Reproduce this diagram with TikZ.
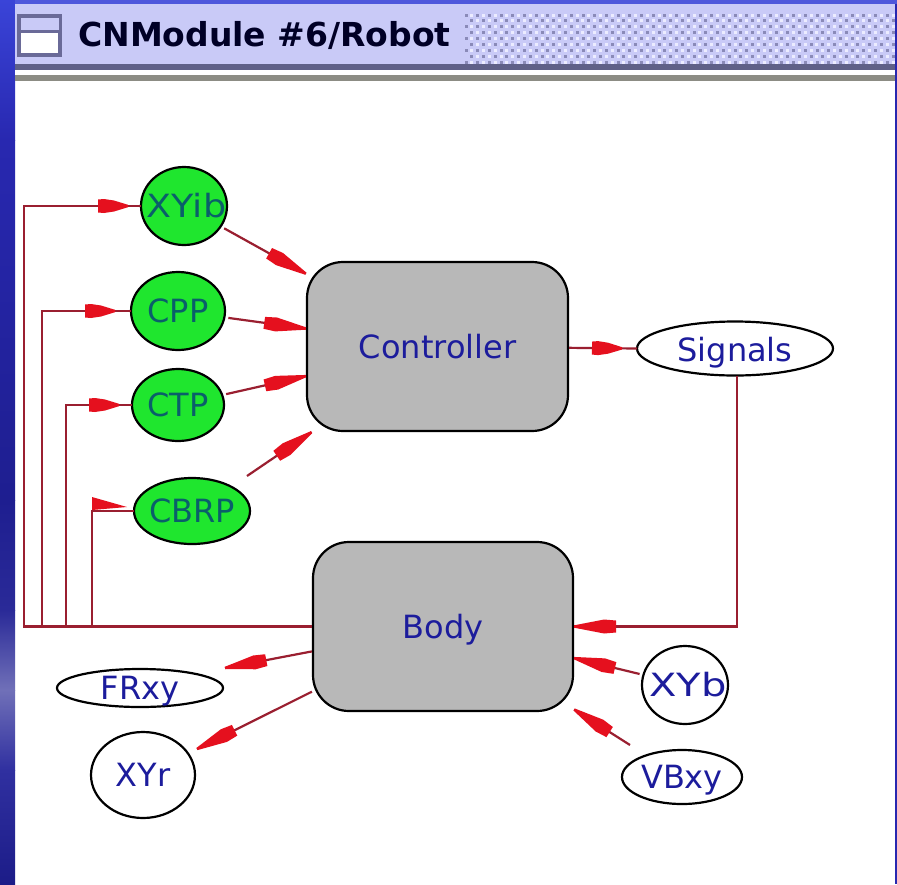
\documentclass[tikz,border=0pt]{standalone}
\usepackage{fontspec}
\setmainfont{DejaVu Sans}
\usetikzlibrary{shapes.geometric,decorations.markings}
\definecolor{barbg}{HTML}{C9CAF7}
\definecolor{linered}{HTML}{9A1F30}
\definecolor{headred}{HTML}{E5101E}
\definecolor{nodegreen}{HTML}{1FE62E}
\definecolor{boxgray}{HTML}{B8B8B8}
\definecolor{lbl}{HTML}{1C1C9C}
\definecolor{lblgreen}{HTML}{0A5F6A}
\definecolor{bgA}{HTML}{3A44D8}
\definecolor{bgB}{HTML}{2828B0}
\definecolor{bgC}{HTML}{1E1E90}
\definecolor{bgD}{HTML}{2A2A98}
\definecolor{bgE}{HTML}{7070B8}
\definecolor{bgF}{HTML}{3030A0}
\definecolor{bgG}{HTML}{1C1C88}
\definecolor{dotdark}{HTML}{8A8AB8}
\definecolor{dotlight}{HTML}{ECECFF}
\definecolor{iconline}{HTML}{6A6A98}
\definecolor{barline}{HTML}{5F6088}
\definecolor{rulegray}{HTML}{8C8C84}
\newcommand{\lab}[1]{\smash{\makebox[0pt]{\raisebox{-11.5pt}{\fontsize{32}{36}\selectfont #1}}}}
\newcommand{\labx}[4]{\smash{\makebox[0pt]{\hspace{#2}\raisebox{#3}{\scalebox{#1}[1]{\fontsize{32}{36}\selectfont #4}}}}}
\tikzset{
  x=1pt,y=-1pt,
  oval/.style={ellipse,draw=black,line width=2.2pt,inner sep=0pt,outer sep=4pt,text=lbl,fill=white},
  greenoval/.style={oval,fill=nodegreen,text=lblgreen},
  blockbox/.style={rectangle,rounded corners=36pt,draw=black,line width=2.2pt,fill=boxgray,text=lbl,inner sep=0pt},
  conn/.style={draw=linered,line width=2.2pt},
  hd/.style={postaction={decorate,decoration={markings,mark=at position #1 with {
    \fill[headred] (0,-1.2) -- (-30,-7) -- (-42,-6) -- (-42,6) -- (-30,7) -- (0,1.2) -- cycle;}}}},
  hds/.style={postaction={decorate,decoration={markings,mark=at position #1 with {
    \fill[headred] (0,-1.2) -- (-14,-5.5) -- (-24,-7) -- (-30,-6.5) -- (-30,6.5) -- (-24,7) -- (-14,5.5) -- (0,1.2) -- cycle;}}}},
}
\begin{document}
\begin{tikzpicture}
\useasboundingbox (0,0) rectangle (897,884);
% presentation background strips
\fill[white] (0,0) rectangle (897,884);
\shade[top color=bgA,bottom color=bgB] (0,0) rectangle (15,140);
\shade[top color=bgB,bottom color=bgC] (0,140) rectangle (15,500);
\shade[top color=bgC,bottom color=bgD] (0,500) rectangle (15,610);
\shade[top color=bgD,bottom color=bgE] (0,610) rectangle (15,690);
\shade[top color=bgE,bottom color=bgF] (0,690) rectangle (15,770);
\shade[top color=bgF,bottom color=bgG] (0,770) rectangle (15,884);
\fill[bgB] (895,0) rectangle (897,884);
\fill[bgA!90!white] (15,0) rectangle (897,4);
% title bar
\fill[barbg] (15,4) rectangle (895,64);
\foreach \j in {0,...,8}{
  \foreach \i in {0,...,36}{
    \pgfmathsetmacro{\px}{466+11.7*\i+5.85*mod(\j,2)}
    \pgfmathsetmacro{\py}{15+5.9*\j}
    \fill[dotdark] (\px-1.5,\py-1.5) rectangle (\px+1.5,\py+1.5);
    \fill[dotlight] (\px+4.3,\py-1.5) rectangle (\px+7.3,\py+1.5);
  }
}
\fill[barline] (15,64) rectangle (895,70);
\fill[white] (15,70) rectangle (895,75);
\fill[rulegray] (15,75) rectangle (895,81);
% window icon
\draw[draw=iconline,line width=4pt,fill=white] (19,16) rectangle (60,55);
\draw[draw=iconline,line width=3pt,fill=barbg] (19,16) rectangle (60,31);
\node[anchor=west,inner sep=0pt,text=black!85!blue] (title) at (78,35) {\fontsize{33}{36}\selectfont\bfseries CNModule \#6/Robot};
% nodes
\node[blockbox,minimum width=261pt,minimum height=169pt] (Controller) at (437.5,346.5) {\lab{Controller}};
\node[blockbox,minimum width=260pt,minimum height=169pt] (Body) at (443,626.5) {\lab{Body}};
\node[greenoval,minimum width=86pt,minimum height=78pt] (XYib) at (184,206) {\labx{1.14}{5pt}{-11.5pt}{XYib}};
\node[greenoval,minimum width=94pt,minimum height=78pt] (CPP) at (178,311) {\lab{CPP}};
\node[greenoval,minimum width=92pt,minimum height=72pt] (CTP) at (178,405) {\lab{CTP}};
\node[greenoval,minimum width=116pt,minimum height=66pt] (CBRP) at (192,511) {\lab{CBRP}};
\node[oval,outer sep=0pt,minimum width=196pt,minimum height=54pt] (Signals) at (735,348.5) {\labx{1}{0pt}{-13pt}{Signals}};
\node[oval,minimum width=166pt,minimum height=38pt] (FRxy) at (140,688) {\lab{FRxy}};
\node[oval,minimum width=104pt,minimum height=86pt] (XYr) at (143,775) {\lab{XYr}};
\node[oval,minimum width=86pt,minimum height=78pt] (XYb) at (685,685) {\labx{1.25}{6pt}{-11.5pt}{XYb}};
\node[oval,minimum width=120pt,minimum height=54pt] (VBxy) at (682,777) {\lab{VBxy}};
% free connector ends and bus corners
\coordinate (busA) at (24,626.5);
\coordinate (busB) at (42,626.5);
\coordinate (busC) at (66,626.5);
\coordinate (busD) at (92,626.5);
\coordinate (sigCorner) at (737,626.5);
\coordinate (frTip) at (225,668);
\coordinate (xyrTip) at (197,749);
\coordinate (vbStart) at (630,745);
\coordinate (cbrpStart) at (247,476);
\coordinate (flagA) at (92,497);
\coordinate (flagB) at (92,510);
\coordinate (flagC) at (127,507);
% connectors
\draw[conn,hd=1] (XYib) -- (Controller);
\draw[conn,hd=1] (CPP) -- (Controller);
\draw[conn,hd=1] (CTP) -- (Controller);
\draw[conn,hd=1] (cbrpStart) -- (Controller);
\draw[conn,hds=-15pt] (Controller) -- (Signals.west);
\draw[conn,hd=1] (Signals.south -| sigCorner) -- (sigCorner) -- (Body.east);
\draw[conn,hd=1] (Body) -- (frTip);
\draw[conn,hd=1] (Body) -- (xyrTip);
\draw[conn,hd=1] (XYb) -- (Body);
\draw[conn,hd=1] (vbStart) -- (Body);
\draw[conn,hds=-13pt] (Body.west) -- (busA) |- ([xshift=4pt]XYib.west);
\draw[conn,hds=-16pt] (Body.west) -- (busB) |- ([xshift=4pt]CPP.west);
\draw[conn,hds=-13pt] (Body.west) -- (busC) |- ([xshift=4pt]CTP.west);
\draw[conn] (Body.west) -- (busD) |- ([xshift=4pt]CBRP.west);
\fill[headred] (flagA) -- (flagC) -- (flagB) -- cycle;
\end{tikzpicture}
\end{document}
